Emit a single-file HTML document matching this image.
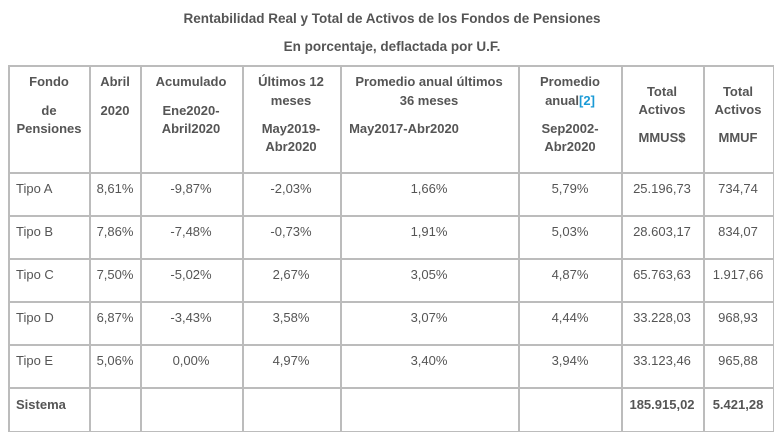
<!DOCTYPE html>
<html><head><meta charset="utf-8"><style>
body{margin:0;width:784px;height:441px;background:#fff;position:relative;overflow:hidden;font-family:"Liberation Sans",sans-serif;color:#555;font-size:13px}
.t{position:absolute;white-space:nowrap;line-height:16px}
.b{font-weight:bold}
.c{transform:translateX(-50%)}
.h{position:absolute;background:#bcbcbc;height:1.5px;left:8px;width:766px}
.v{position:absolute;background:#bcbcbc;width:1.5px;top:65px;height:367px}
.lk{color:#1a9ad6}
</style></head><body>
<div class="t b c" style="left:392px;top:11px;font-size:13.5px">Rentabilidad Real y Total de Activos de los Fondos de Pensiones</div>
<div class="t b c" style="left:392px;top:39px;font-size:13.5px">En porcentaje, deflactada por U.F.</div>

<div class="h" style="top:65px"></div>
<div class="h" style="top:172px"></div>
<div class="h" style="top:215px"></div>
<div class="h" style="top:258px"></div>
<div class="h" style="top:301px"></div>
<div class="h" style="top:344px"></div>
<div class="h" style="top:387px"></div>
<div class="h" style="top:430.5px"></div>
<div class="v" style="left:8px"></div>
<div class="v" style="left:89px"></div>
<div class="v" style="left:140px"></div>
<div class="v" style="left:242px"></div>
<div class="v" style="left:340px"></div>
<div class="v" style="left:518px"></div>
<div class="v" style="left:621px"></div>
<div class="v" style="left:703px"></div>
<div class="v" style="left:772.5px"></div>

<!-- header -->
<div class="t b c" style="left:49px;top:74px">Fondo</div>
<div class="t b c" style="left:49px;top:103px">de</div>
<div class="t b c" style="left:49px;top:121px">Pensiones</div>
<div class="t b c" style="left:115px;top:74px">Abril</div>
<div class="t b c" style="left:115px;top:103px">2020</div>
<div class="t b c" style="left:191px;top:74px">Acumulado</div>
<div class="t b c" style="left:191px;top:103px">Ene2020-</div>
<div class="t b c" style="left:191px;top:121px">Abril2020</div>
<div class="t b c" style="left:291px;top:74px">Últimos 12</div>
<div class="t b c" style="left:291px;top:93px">meses</div>
<div class="t b c" style="left:291px;top:121px">May2019-</div>
<div class="t b c" style="left:291px;top:139px">Abr2020</div>
<div class="t b c" style="left:429px;top:74px">Promedio anual últimos</div>
<div class="t b c" style="left:429px;top:93px">36 meses</div>
<div class="t b c" style="left:404px;top:121px">May2017-Abr2020</div>
<div class="t b c" style="left:570px;top:74px">Promedio</div>
<div class="t b c" style="left:570px;top:93px">anual<span class="lk">[2]</span></div>
<div class="t b c" style="left:570px;top:121px">Sep2002-</div>
<div class="t b c" style="left:570px;top:139px">Abr2020</div>
<div class="t b c" style="left:662px;top:84px">Total</div>
<div class="t b c" style="left:662px;top:102px">Activos</div>
<div class="t b c" style="left:662px;top:130px">MMUS$</div>
<div class="t b c" style="left:738px;top:84px">Total</div>
<div class="t b c" style="left:738px;top:102px">Activos</div>
<div class="t b c" style="left:738px;top:130px">MMUF</div>

<!-- rows -->
<div class="t" style="left:16px;top:181px">Tipo A</div>
<div class="t c" style="left:115px;top:181px">8,61%</div>
<div class="t c" style="left:191px;top:181px">-9,87%</div>
<div class="t c" style="left:291px;top:181px">-2,03%</div>
<div class="t c" style="left:429px;top:181px">1,66%</div>
<div class="t c" style="left:570px;top:181px">5,79%</div>
<div class="t c" style="left:662px;top:181px">25.196,73</div>
<div class="t c" style="left:738px;top:181px">734,74</div>

<div class="t" style="left:16px;top:224px">Tipo B</div>
<div class="t c" style="left:115px;top:224px">7,86%</div>
<div class="t c" style="left:191px;top:224px">-7,48%</div>
<div class="t c" style="left:291px;top:224px">-0,73%</div>
<div class="t c" style="left:429px;top:224px">1,91%</div>
<div class="t c" style="left:570px;top:224px">5,03%</div>
<div class="t c" style="left:662px;top:224px">28.603,17</div>
<div class="t c" style="left:738px;top:224px">834,07</div>

<div class="t" style="left:16px;top:267px">Tipo C</div>
<div class="t c" style="left:115px;top:267px">7,50%</div>
<div class="t c" style="left:191px;top:267px">-5,02%</div>
<div class="t c" style="left:291px;top:267px">2,67%</div>
<div class="t c" style="left:429px;top:267px">3,05%</div>
<div class="t c" style="left:570px;top:267px">4,87%</div>
<div class="t c" style="left:662px;top:267px">65.763,63</div>
<div class="t c" style="left:738px;top:267px">1.917,66</div>

<div class="t" style="left:16px;top:310px">Tipo D</div>
<div class="t c" style="left:115px;top:310px">6,87%</div>
<div class="t c" style="left:191px;top:310px">-3,43%</div>
<div class="t c" style="left:291px;top:310px">3,58%</div>
<div class="t c" style="left:429px;top:310px">3,07%</div>
<div class="t c" style="left:570px;top:310px">4,44%</div>
<div class="t c" style="left:662px;top:310px">33.228,03</div>
<div class="t c" style="left:738px;top:310px">968,93</div>

<div class="t" style="left:16px;top:353px">Tipo E</div>
<div class="t c" style="left:115px;top:353px">5,06%</div>
<div class="t c" style="left:191px;top:353px">0,00%</div>
<div class="t c" style="left:291px;top:353px">4,97%</div>
<div class="t c" style="left:429px;top:353px">3,40%</div>
<div class="t c" style="left:570px;top:353px">3,94%</div>
<div class="t c" style="left:662px;top:353px">33.123,46</div>
<div class="t c" style="left:738px;top:353px">965,88</div>

<div class="t b" style="left:16px;top:397px">Sistema</div>
<div class="t b c" style="left:662px;top:397px">185.915,02</div>
<div class="t b c" style="left:738px;top:397px">5.421,28</div>
</body></html>
